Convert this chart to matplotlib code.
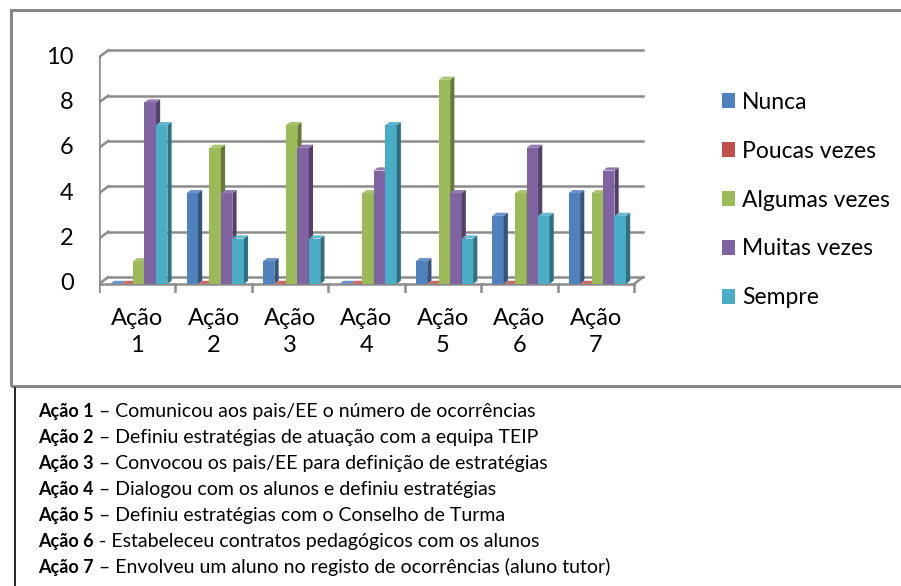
import numpy as np
import matplotlib
matplotlib.use("Agg")
import matplotlib.pyplot as plt
from matplotlib.patches import Polygon, Patch, Rectangle
from matplotlib.lines import Line2D

plt.rcParams["font.family"] = ["Lato", "DejaVu Sans"]

# dados do gráfico
acoes = ["Ação\n1", "Ação\n2", "Ação\n3", "Ação\n4", "Ação\n5", "Ação\n6", "Ação\n7"]
series = ["Nunca", "Poucas vezes", "Algumas vezes", "Muitas vezes", "Sempre"]
nunca = [0, 4, 1, 0, 1, 3, 4]
poucas = [0, 0, 0, 0, 0, 0, 0]
algumas = [1, 6, 7, 4, 9, 4, 4]
muitas = [8, 4, 6, 5, 4, 6, 5]
sempre = [7, 2, 2, 7, 2, 3, 3]
cores = ["#4F81BD", "#C0504D", "#9BBB59", "#8064A2", "#4BACC6"]

legenda_acoes = [
    ("Ação 1", " – Comunicou aos pais/EE o número de ocorrências"),
    ("Ação 2", " – Definiu estratégias de atuação com a equipa TEIP"),
    ("Ação 3", " – Convocou os pais/EE para definição de estratégias"),
    ("Ação 4", " – Dialogou com os alunos e definiu estratégias"),
    ("Ação 5", " – Definiu estratégias com o Conselho de Turma"),
    ("Ação 6", " - Estabeleceu contratos pedagógicos com os alunos"),
    ("Ação 7", " – Envolveu um aluno no registo de ocorrências (aluno tutor)"),
]

valores = [nunca, poucas, algumas, muitas, sempre]


def escurecer(c, f):
    r, g, b = matplotlib.colors.to_rgb(c)
    return (r * f, g * f, b * f)


def clarear(c, f):
    r, g, b = matplotlib.colors.to_rgb(c)
    return (r + (1 - r) * f, g + (1 - g) * f, b + (1 - b) * f)


fig = plt.figure(figsize=(9.01, 5.86), dpi=100)
ax = fig.add_axes([0.1099, 1 - 293 / 586, 0.609, 0.418])

n = len(acoes)
largura = 0.15
# profundidade 3D (em unidades dos dados)
pdx, pdy = 0.055, 0.14    # barras
wdx, wdy = 0.12, 0.30     # paredes
grade = "#8C8C8C"
ymax = 10
yticks = list(range(0, ymax + 1, 2))

ax.set_xlim(-0.5, n - 0.5 + 0.18)
ax.set_ylim(-0.4, ymax + 0.4)
ax.axis("off")

# parede de fundo: linhas de grelha
x0, x1 = -0.5, n - 0.5
for t in yticks:
    ax.plot([x0 + wdx, x1 + wdx], [t + wdy, t + wdy], color=grade, lw=1.8, zorder=1)
    ax.plot([x0, x0 + wdx], [t, t + wdy], color=grade, lw=1.8, zorder=1)
    ax.plot([x0 - 0.09, x0], [t, t], color=grade, lw=1.8, zorder=1)
    ax.text(x0 - 0.33, t, str(t), ha="right", va="center", fontsize=17)
# eixo vertical
ax.plot([x0, x0], [0, ymax], color=grade, lw=1.8, zorder=1)
# chão
ax.plot([x0, x1], [0, 0], color=grade, lw=1.8, zorder=2)
ax.plot([x1, x1 + wdx], [0, wdy], color=grade, lw=1.8, zorder=2)
for i in range(n + 1):
    ax.plot([x0 + i, x0 + i], [0, -0.35], color=grade, lw=1.8, zorder=2)
for i, lab in enumerate(acoes):
    ax.text(i, -1.05, lab, ha="center", va="top", fontsize=17, linespacing=1.35)

# barras 3D
z = 3
for i in range(n):
    for j, (vals, cor) in enumerate(zip(valores, cores)):
        v = vals[i]
        xl = i + (j - 2) * largura + 0.02 - largura / 2
        xr = xl + largura
        ax.bar(xl, v, width=largura, align="edge", color=cor, edgecolor="none", zorder=z)
        lado = Polygon([(xr, 0), (xr + pdx, pdy), (xr + pdx, v + pdy), (xr, v)],
                       closed=True, facecolor=escurecer(cor, 0.65), edgecolor="none", zorder=z)
        topo = Polygon([(xl, v), (xl + pdx, v + pdy), (xr + pdx, v + pdy), (xr, v)],
                       closed=True, facecolor=clarear(cor, 0.15), edgecolor="none", zorder=z)
        ax.add_patch(lado)
        ax.add_patch(topo)
        z += 1

# legenda
handles = [Patch(facecolor=c, edgecolor="none") for c in cores]
fig.legend(handles, series, loc="upper left", bbox_to_anchor=(701 / 901, 1 - 71 / 586),
           frameon=False, fontsize=16.5, handlelength=0.6, handleheight=0.6,
           handletextpad=0.3, labelspacing=1.22)

# moldura do gráfico
fig.patches.append(Rectangle((11 / 901, 1 - 386 / 586), 1.0, 376 / 586, transform=fig.transFigure,
                             fill=False, edgecolor="#878787", lw=2.2, zorder=0))
fig.lines.append(Line2D([15 / 901, 15 / 901], [0, 1 - 388 / 586], transform=fig.transFigure,
                        color="black", lw=1.2))

# texto das ações
fig.canvas.draw()
r = fig.canvas.get_renderer()
y = 1 - 411 / 586
for negrito, resto in legenda_acoes:
    t = fig.text(38 / 901, y, negrito, fontsize=13, fontweight="bold", va="center")
    ext = t.get_window_extent(r)
    fig.text(ext.x1 / fig.bbox.width, y, resto, fontsize=14, va="center")
    y -= 26 / 586

fig.savefig("out.png", dpi=100)
